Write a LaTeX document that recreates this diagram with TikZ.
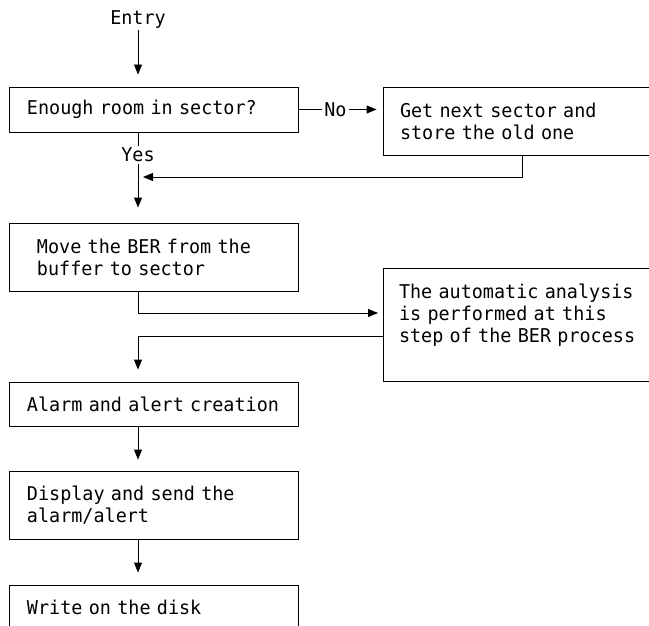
\documentclass[tikz,border=0pt]{standalone}
\usepackage{fontspec}
\setmonofont[FakeStretch=0.97]{DejaVu Sans Mono}
\usetikzlibrary{arrows.meta}
\begin{document}
\begin{tikzpicture}[x=1pt,y=-1pt,
  line width=0.9pt,
  every node/.style={font=\ttfamily\fontsize{19}{22}\selectfont},
  box/.style={draw,line width=0.9pt,align=left,anchor=center,inner ysep=0pt},
  arr/.style={-{Triangle[length=10pt,width=8pt]}},
]
\useasboundingbox (0,0) rectangle (649,626);
\clip (0,0) rectangle (649,626);
\fill[white] (0,0) rectangle (649,626);
\coordinate (col) at (138,0);
\node (entry) at (138,20) {Entry};
\node[box,text width=253pt,inner xsep=18pt,minimum height=45pt] (box1) at (153.5,109.5) {\raisebox{-2pt}{Enough room in sector?}};
\node[box,text width=263pt,inner xsep=17pt,minimum height=68pt] (box2) at (531.5,121) {Get next sector and\\store the old one};
\node[box,text width=233pt,inner xsep=28pt,minimum height=68pt] (box3) at (153.5,257) {Move the BER from the\\buffer to sector};
\node[box,text width=265pt,inner xsep=16pt,minimum height=113pt] (box4) at (531.5,324.5) {The automatic analysis\\is performed at this\\step of the BER process\\~};
\node[box,text width=253pt,inner xsep=18pt,minimum height=44pt] (box5) at (153.5,404) {Alarm and alert creation};
\node[box,text width=253pt,inner xsep=18pt,minimum height=68pt] (box6) at (153.5,505) {Display and send the\\alarm/alert};
\node[box,text width=253pt,inner xsep=18pt,minimum height=45pt] (box7) at (153.5,607.5) {Write on the disk};
\node[inner sep=1pt] (yes) at (138,155) {Yes};
% connectors
\draw[arr,shorten >=12pt] ([yshift=3pt]entry.south) -- (box1.north -| col);
\draw[arr,shorten >=6pt] (box1.east) -- node[pos=0.44,fill=white,inner sep=2pt] {No} (box2.west |- box1.east);
\draw (box1.south -| col) -- (yes.north);
\draw[arr,shorten >=15pt] (yes.south) -- (box3.north -| col);
\coordinate (ret) at (522,155);
\coordinate (join1) at (143,177);
\draw[arr] (ret) |- (join1);
\coordinate (b4in) at (378,313);
\draw[arr] (box3.south -| col) |- (b4in);
\coordinate (b4out) at (383,336);
\draw[arr,shorten >=12pt] (b4out) -| (box5.north -| col);
\draw[arr,shorten >=11pt] (box5.south -| col) -- (box6.north -| col);
\draw[arr,shorten >=12pt] (box6.south -| col) -- (box7.north -| col);
\end{tikzpicture}
\end{document}
